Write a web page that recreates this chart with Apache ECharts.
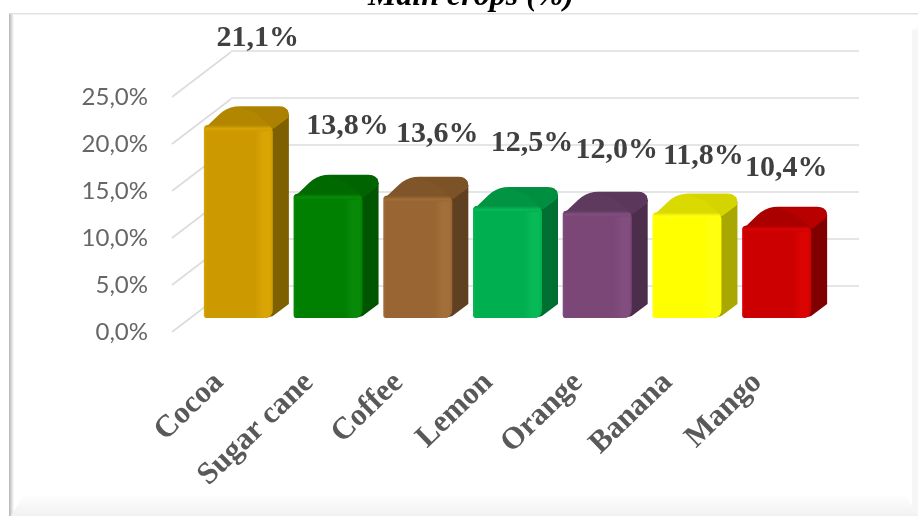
<!DOCTYPE html>
<html>
<head>
<meta charset="utf-8">
<style>html,body{margin:0;padding:0;background:#fff}#c{width:918px;height:516px}</style>
<script src="https://cdn.jsdelivr.net/npm/echarts@6/dist/echarts.min.js"></script>
</head>
<body>
<div id="c"></div>
<script>
const titleText = 'Main crops (%)';
const categories = ['Cocoa', 'Sugar cane', 'Coffee', 'Lemon', 'Orange', 'Banana', 'Mango'];
const shares = [21.1, 13.8, 13.6, 12.5, 12.0, 11.8, 10.4];
const yTicks = [0, 5, 10, 15, 20, 25];

// styling, kept apart from the data
const frontColors = ['#CC9900', '#008000', '#996633', '#00B050', '#7A4777', '#FFFF00', '#CC0000'];
const lightColors = ['#D9A504', '#088A08', '#A26E39', '#08B957', '#824D7F', '#FFFF10', '#DC0303'];
const sideColors  = ['#7F6000', '#005500', '#5F4020', '#006F32', '#4D2D4C', '#A8A800', '#800000'];
const topColors   = ['#B38600', '#006A00', '#805529', '#009443', '#5E3A5E', '#DADA00', '#AA0000'];
const topSideColors = ['#AC8000', '#006400', '#7C5227', '#008E40', '#5B385B', '#D4D400', '#B80000'];
const labelDx = [20, 20, 20, 25, 20, 17, 10];
const labelDy = [81, 62, 56, 57, 55, 51, 52];

// sample a closed polygon with rounded corners; pts = [x, y, radius]
function rounded(pts) {
  const out = [];
  const n = pts.length;
  for (let i = 0; i < n; i++) {
    const p = pts[i], a = pts[(i + n - 1) % n], b = pts[(i + 1) % n], r = p[2] || 0;
    if (!r) { out.push([p[0], p[1]]); continue; }
    const la = Math.hypot(a[0] - p[0], a[1] - p[1]), lb = Math.hypot(b[0] - p[0], b[1] - p[1]);
    const s = [p[0] + (a[0] - p[0]) * r / la, p[1] + (a[1] - p[1]) * r / la];
    const e = [p[0] + (b[0] - p[0]) * r / lb, p[1] + (b[1] - p[1]) * r / lb];
    for (let t = 0; t <= 1.001; t += 0.2) {
      const u = 1 - t;
      out.push([u * u * s[0] + 2 * u * t * p[0] + t * t * e[0], u * u * s[1] + 2 * u * t * p[1] + t * t * e[1]]);
    }
  }
  return out;
}

function renderBar(params, api) {
  const i = api.value(0);
  const v = api.value(1);
  const c = api.coord([i, v]);
  const base = api.coord([i, 0]);
  const cx = c[0];
  const L = cx - 34, R = cx + 35, D = 16;
  const ft = c[1] + 7.5;             // visible front-top edge, below the bevel
  const by = base[1];
  const poly = (pts, fill) => ({ type: 'polygon', shape: { points: pts }, style: { fill: fill } });
  const front = rounded([[L, ft - 2, 4], [R, ft - 1, 6], [R, by, 9], [L, by, 3]]);
  const top = rounded([[L, ft + 2, 3], [L + 24, ft - 21, 12], [R + D, ft - 21, 10], [R + D, ft - 10, 3], [R, ft + 2, 3]]);
  const topSide = [[cx + 18, ft - 14], [R, ft + 1], [R + D, ft - 12], [R + D - 1, ft - 17], [R + D - 6, ft - 20], [cx + 2, ft - 20]];
  const side = [[R - 4, ft - 1], [R + D, ft - 13], [R + D, by - 14], [R, by - 2], [R - 7, by], [R - 7, by - 8]];
  const grad = {
    type: 'linear', x: 0, y: 0, x2: 1, y2: 0,
    colorStops: [
      { offset: 0, color: lightColors[i] }, { offset: 0.04, color: frontColors[i] },
      { offset: 0.74, color: frontColors[i] }, { offset: 0.86, color: lightColors[i] },
      { offset: 0.95, color: lightColors[i] }, { offset: 1, color: frontColors[i] }
    ]
  };
  const topGrad = {
    type: 'linear', x: 0, y: 0, x2: 0, y2: 1,
    colorStops: [{ offset: 0, color: topColors[i] }, { offset: 0.6, color: lightColors[i] }, { offset: 1, color: frontColors[i] }]
  };
  return {
    type: 'group',
    children: [
      poly(side, sideColors[i]),
      poly(top, topColors[i]),
      poly(topSide, topSideColors[i]),
      poly(front, grad),
      { type: 'rect', shape: { x: L + 1, y: ft - 2, width: R - L - 3, height: 6, r: 3 }, style: { fill: topGrad } },
      {
        type: 'text',
        style: {
          text: v.toFixed(1).replace('.', ',') + '%',
          x: cx + labelDx[i], y: c[1] - labelDy[i],
          align: 'center', verticalAlign: 'middle',
          font: 'bold 30px "Liberation Serif"', fill: '#404040'
        }
      }
    ]
  };
}

function renderDiagonal(params, api) {
  const p = api.coord([0, api.value(0)]);
  return {
    type: 'line',
    shape: { x1: p[0], y1: p[1], x2: p[0] + 59, y2: p[1] - 45 },
    style: { stroke: '#DCDCDC', lineWidth: 1.6 }
  };
}

const chart = echarts.init(document.getElementById('c'), null, { renderer: 'canvas' });
chart.setOption({
  animation: false,
  backgroundColor: '#fff',
  title: {
    text: titleText, left: 466, textAlign: 'center', top: -24,
    textStyle: { fontFamily: 'Liberation Serif', fontWeight: 'bold', fontStyle: 'italic', fontSize: 32, color: '#000' }
  },
  grid: [
    { left: 172, width: 628, top: 97, height: 235 },
    { left: 231, width: 628, top: 51, height: 235 },
    { left: 193, width: 628, top: 83, height: 235 }
  ],
  xAxis: [
    { gridIndex: 0, type: 'value', min: 0, max: 1, show: false },
    { gridIndex: 1, type: 'value', min: 0, max: 1, show: false },
    {
      gridIndex: 2, type: 'category', data: categories,
      axisLine: { show: false }, axisTick: { show: false },
      axisLabel: {
        interval: 0, rotate: 44, margin: 42, hideOverlap: false,
        padding: [0, 26, 0, 0],
        fontFamily: 'Liberation Serif', fontWeight: 'bold', fontSize: 31, color: '#595959'
      }
    }
  ],
  yAxis: [
    {
      gridIndex: 0, type: 'value', min: yTicks[0], max: yTicks[yTicks.length - 1], interval: yTicks[1] - yTicks[0],
      axisLine: { show: false }, axisTick: { show: false }, splitLine: { show: false },
      axisLabel: {
        margin: 24, fontFamily: 'Lato', fontSize: 24, color: '#666666',
        formatter: v => v.toFixed(1).replace('.', ',') + '%'
      }
    },
    {
      gridIndex: 1, type: 'value', min: yTicks[0], max: yTicks[yTicks.length - 1], interval: yTicks[1] - yTicks[0],
      axisLine: { show: false }, axisTick: { show: false }, axisLabel: { show: false },
      splitLine: { show: true, lineStyle: { color: '#DCDCDC', width: 1.6 } }
    },
    {
      gridIndex: 2, type: 'value', min: yTicks[0], max: yTicks[yTicks.length - 1],
      show: false
    }
  ],
  series: [
    {
      type: 'custom', xAxisIndex: 0, yAxisIndex: 0, z: 1, silent: true,
      data: yTicks.map(v => [v]), encode: { y: 0 },
      renderItem: renderDiagonal
    },
    {
      type: 'custom', xAxisIndex: 2, yAxisIndex: 2, z: 3, silent: true,
      data: shares.map((v, i) => [i, v]), encode: { x: 0, y: 1 },
      renderItem: renderBar
    }
  ],
  graphic: [
    { type: 'rect', z: -10, shape: { x: 9, y: 13, width: 909, height: 1.5 }, style: { fill: '#E2E2E2' } },
    {
      type: 'rect', z: -10, shape: { x: 9, y: 14, width: 5, height: 502 },
      style: { fill: { type: 'linear', x: 0, y: 0, x2: 1, y2: 0, colorStops: [{ offset: 0, color: '#B4B4B4' }, { offset: 1, color: '#FFFFFF' }] } }
    },
    {
      type: 'polygon', z: -10, shape: { points: [[912, 30], [918, 28], [918, 516], [912, 516]] },
      style: { fill: '#F6F6F6' }
    },
    {
      type: 'polygon', z: -10, shape: { points: [[24, 494], [905, 494], [918, 516], [11, 516]] },
      style: { fill: { type: 'linear', x: 0, y: 0, x2: 0, y2: 1, colorStops: [{ offset: 0, color: '#FFFFFF' }, { offset: 1, color: '#F1F1F1' }] } }
    }
  ]
});
</script>
</body>
</html>
